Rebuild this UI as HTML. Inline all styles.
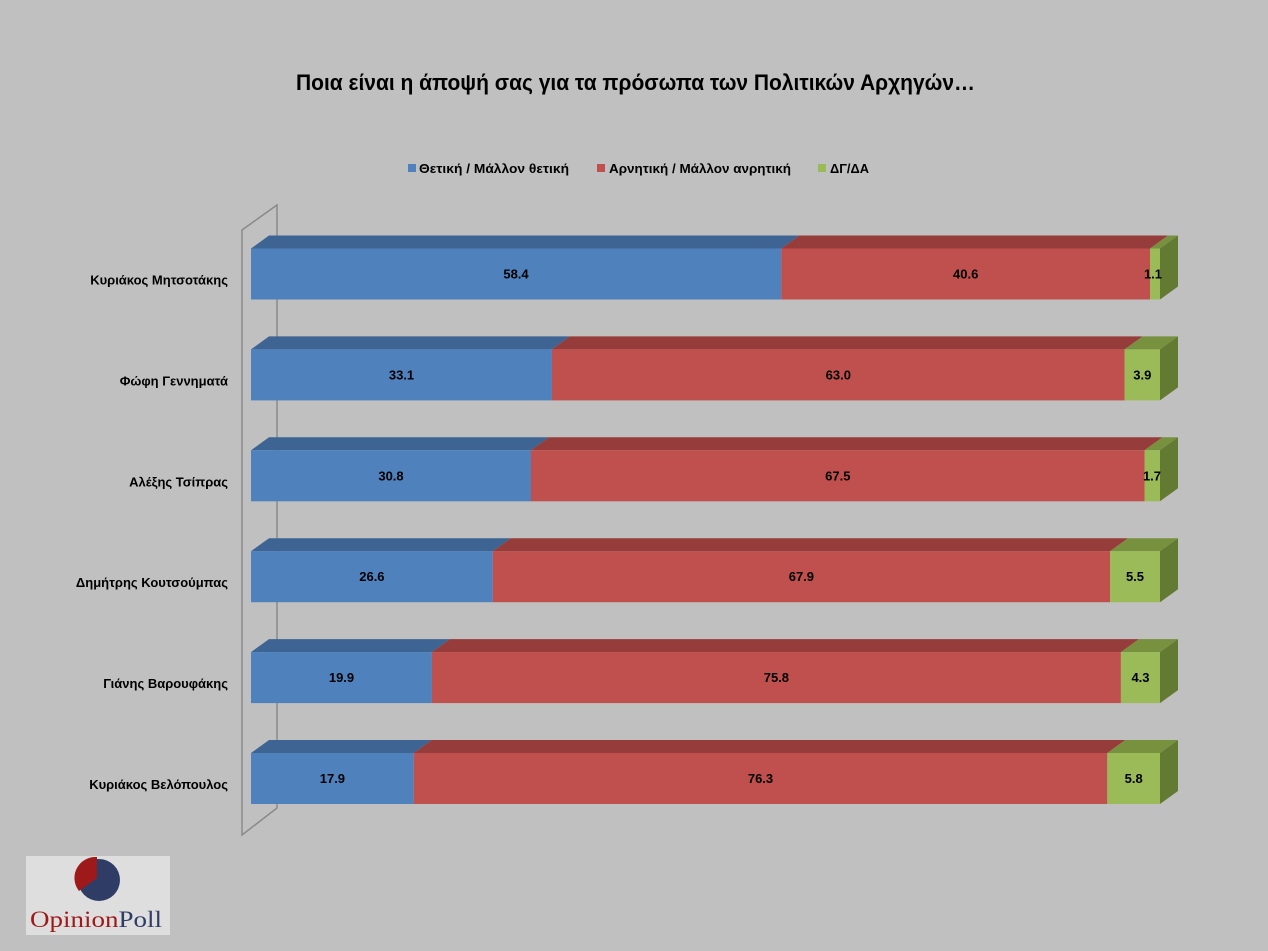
<!DOCTYPE html>
<html>
<head>
<meta charset="utf-8">
<style>
html,body{margin:0;padding:0;background:#c0c0c0;}
svg{display:block;}
text{font-family:"Liberation Sans","DejaVu Sans",sans-serif;}
</style>
</head>
<body>
<svg width="1268" height="951" viewBox="0 0 1268 951" xmlns="http://www.w3.org/2000/svg">
<rect x="0" y="0" width="1268" height="951" fill="#c0c0c0"/>

<!-- Title -->
<text x="296" y="90" font-size="22" font-weight="bold" fill="#000" textLength="679" lengthAdjust="spacingAndGlyphs">Ποια είναι η άποψή σας για τα πρόσωπα των Πολιτικών Αρχηγών…</text>

<!-- Legend -->
<rect x="408" y="164" width="8" height="8" fill="#4f81bd"/>
<text x="419" y="173" font-size="13" font-weight="bold" fill="#000" textLength="150" lengthAdjust="spacingAndGlyphs">Θετική / Μάλλον θετική</text>
<rect x="597" y="164" width="8" height="8" fill="#c0504d"/>
<text x="609" y="173" font-size="13" font-weight="bold" fill="#000" textLength="182" lengthAdjust="spacingAndGlyphs">Αρνητική / Μάλλον ανρητική</text>
<rect x="818" y="164" width="8" height="8" fill="#9bbb59"/>
<text x="830" y="173" font-size="13" font-weight="bold" fill="#000" textLength="39" lengthAdjust="spacingAndGlyphs">ΔΓ/ΔΑ</text>

<!-- Axis wall -->
<polygon points="242,230 277,205 277,808 242,835" fill="none" stroke="#8a8a8a" stroke-width="1.5"/>

<!-- Row 1 -->
<g>
<polygon points="251,248.5 781.3,248.5 799.3,235.5 269,235.5" fill="#3e6493"/>
<polygon points="781.3,248.5 1150,248.5 1168,235.5 799.3,235.5" fill="#963c3a"/>
<polygon points="1150,248.5 1160,248.5 1178,235.5 1168,235.5" fill="#77913f"/>
<polygon points="1160,248.5 1178,235.5 1178,286.5 1160,299.5" fill="#637a33"/>
<rect x="251" y="248.5" width="530.3" height="51" fill="#4f81bd"/>
<rect x="781.3" y="248.5" width="368.7" height="51" fill="#c0504d"/>
<rect x="1150" y="248.5" width="10" height="51" fill="#9bbb59"/>
</g>
<!-- Row 2 -->
<g>
<polygon points="251,349.4 551.9,349.4 569.9,336.4 269,336.4" fill="#3e6493"/>
<polygon points="551.9,349.4 1124.6,349.4 1142.6,336.4 569.9,336.4" fill="#963c3a"/>
<polygon points="1124.6,349.4 1160,349.4 1178,336.4 1142.6,336.4" fill="#77913f"/>
<polygon points="1160,349.4 1178,336.4 1178,387.4 1160,400.4" fill="#637a33"/>
<rect x="251" y="349.4" width="300.9" height="51" fill="#4f81bd"/>
<rect x="551.9" y="349.4" width="572.7" height="51" fill="#c0504d"/>
<rect x="1124.6" y="349.4" width="35.4" height="51" fill="#9bbb59"/>
</g>
<!-- Row 3 -->
<g>
<polygon points="251,450.3 531,450.3 549,437.3 269,437.3" fill="#3e6493"/>
<polygon points="531,450.3 1144.5,450.3 1162.5,437.3 549,437.3" fill="#963c3a"/>
<polygon points="1144.5,450.3 1160,450.3 1178,437.3 1162.5,437.3" fill="#77913f"/>
<polygon points="1160,450.3 1178,437.3 1178,488.3 1160,501.3" fill="#637a33"/>
<rect x="251" y="450.3" width="280" height="51" fill="#4f81bd"/>
<rect x="531" y="450.3" width="613.5" height="51" fill="#c0504d"/>
<rect x="1144.5" y="450.3" width="15.5" height="51" fill="#9bbb59"/>
</g>
<!-- Row 4 -->
<g>
<polygon points="251,551.2 492.8,551.2 510.8,538.2 269,538.2" fill="#3e6493"/>
<polygon points="492.8,551.2 1110,551.2 1128,538.2 510.8,538.2" fill="#963c3a"/>
<polygon points="1110,551.2 1160,551.2 1178,538.2 1128,538.2" fill="#77913f"/>
<polygon points="1160,551.2 1178,538.2 1178,589.2 1160,602.2" fill="#637a33"/>
<rect x="251" y="551.2" width="241.8" height="51" fill="#4f81bd"/>
<rect x="492.8" y="551.2" width="617.2" height="51" fill="#c0504d"/>
<rect x="1110" y="551.2" width="50" height="51" fill="#9bbb59"/>
</g>
<!-- Row 5 -->
<g>
<polygon points="251,652.1 431.9,652.1 449.9,639.1 269,639.1" fill="#3e6493"/>
<polygon points="431.9,652.1 1120.9,652.1 1138.9,639.1 449.9,639.1" fill="#963c3a"/>
<polygon points="1120.9,652.1 1160,652.1 1178,639.1 1138.9,639.1" fill="#77913f"/>
<polygon points="1160,652.1 1178,639.1 1178,690.1 1160,703.1" fill="#637a33"/>
<rect x="251" y="652.1" width="180.9" height="51" fill="#4f81bd"/>
<rect x="431.9" y="652.1" width="689" height="51" fill="#c0504d"/>
<rect x="1120.9" y="652.1" width="39.1" height="51" fill="#9bbb59"/>
</g>
<!-- Row 6 -->
<g>
<polygon points="251,753 413.7,753 431.7,740 269,740" fill="#3e6493"/>
<polygon points="413.7,753 1107.3,753 1125.3,740 431.7,740" fill="#963c3a"/>
<polygon points="1107.3,753 1160,753 1178,740 1125.3,740" fill="#77913f"/>
<polygon points="1160,753 1178,740 1178,791 1160,804" fill="#637a33"/>
<rect x="251" y="753" width="162.7" height="51" fill="#4f81bd"/>
<rect x="413.7" y="753" width="693.6" height="51" fill="#c0504d"/>
<rect x="1107.3" y="753" width="52.7" height="51" fill="#9bbb59"/>
</g>

<!-- Value labels -->
<g font-size="13" font-weight="bold" fill="#000" text-anchor="middle">
<text x="516" y="278.5">58.4</text>
<text x="965.7" y="278.5">40.6</text>
<text x="1153" y="278.5">1.1</text>

<text x="401.5" y="379.4">33.1</text>
<text x="838.3" y="379.4">63.0</text>
<text x="1142.3" y="379.4">3.9</text>

<text x="391" y="480.3">30.8</text>
<text x="837.8" y="480.3">67.5</text>
<text x="1152" y="480.3">1.7</text>

<text x="371.9" y="581.2">26.6</text>
<text x="801.4" y="581.2">67.9</text>
<text x="1135" y="581.2">5.5</text>

<text x="341.5" y="682.1">19.9</text>
<text x="776.4" y="682.1">75.8</text>
<text x="1140.5" y="682.1">4.3</text>

<text x="332.4" y="783">17.9</text>
<text x="760.5" y="783">76.3</text>
<text x="1133.7" y="783">5.8</text>
</g>

<!-- Category labels -->
<g font-size="13" font-weight="bold" fill="#000" text-anchor="end">
<text x="228" y="284.5">Κυριάκος Μητσοτάκης</text>
<text x="228" y="385.4">Φώφη Γεννηματά</text>
<text x="228" y="486.3">Αλέξης Τσίπρας</text>
<text x="228" y="587.2">Δημήτρης Κουτσούμπας</text>
<text x="228" y="688.1">Γιάνης Βαρουφάκης</text>
<text x="228" y="789">Κυριάκος Βελόπουλος</text>
</g>

<!-- Logo -->
<rect x="26" y="856" width="144" height="79" fill="#dedede"/>
<circle cx="99" cy="880" r="21" fill="#2f3d66"/>
<path d="M97,878 L97,857 A21,21 0 0 0 79,891 Z" fill="#9e1a1a"/>
<text x="30" y="927" style="font-family:'Liberation Serif','DejaVu Serif',serif;" font-size="23" textLength="132" lengthAdjust="spacingAndGlyphs"><tspan fill="#9e1a1a">Opinion</tspan><tspan fill="#2f3d66">Poll</tspan></text>
</svg>
</body>
</html>
